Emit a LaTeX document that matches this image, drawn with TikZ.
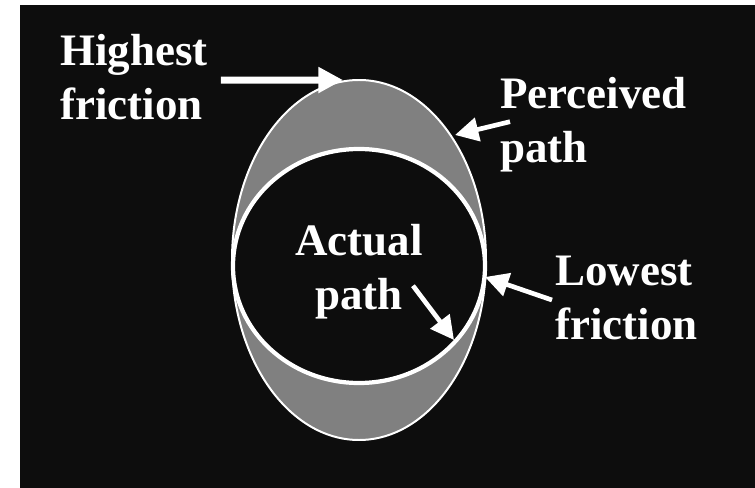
\documentclass[tikz,border=0pt]{standalone}
\usepackage{fontspec}
\setmainfont{Liberation Serif}
\usetikzlibrary{arrows.meta, positioning, calc}
\definecolor{bgblack}{HTML}{0D0D0D}
\definecolor{bandgray}{HTML}{808080}

\begin{document}
\begin{tikzpicture}[x=0.03cm, y=-0.03cm,
    tag/.style={text=white, font=\bfseries\fontsize{38.4}{46.9}\selectfont,
        align=left, anchor=base west, inner sep=0pt},
    pointer/.style={white, line width=4pt, -{Triangle[length=20pt, width=20pt]}},
    bigpointer/.style={white, line width=6pt, -{Triangle[length=21pt, width=21pt]}}]
    % Background
    \useasboundingbox (0,0) rectangle (755,488);
    \fill[white] (0,0) rectangle (755,488);
    \fill[bgblack] (20,5) rectangle (755,488);

    % Perceived path (outer) and actual path (inner)
    \filldraw[fill=bandgray, draw=white, line width=1.7pt] (359,260) ellipse [x radius=127, y radius=180];
    \filldraw[fill=bgblack, draw=white, line width=3.6pt] (359,266) ellipse [x radius=126, y radius=117];

    % Labels (base = last line)
    \node[tag] (highest) at (60,120) {Highest\\friction};
    \node[tag] (perceived) at (500,163) {Perceived\\path};
    \node[tag, align=center, anchor=base] (actual) at (359,310) {Actual\\path};
    \node[tag] (lowest) at (555,340) {Lowest\\friction};

    % Arrow tips on the paths
    \coordinate (hightip) at (343,80);
    \coordinate (perctip) at (455,135);
    \coordinate (acttip) at (454,340);
    \coordinate (lowtip) at (485,277);

    % Arrows
    \draw[bigpointer] ($(highest.east)+(13,3)$) -- (hightip);
    \draw[pointer] ($(perceived.west)+(10,-3)$) -- (perctip);
    \draw[pointer] ($(actual.east)+(-10,14)$) -- (acttip);
    \draw[pointer] ($(lowest.west)+(-3,2)$) -- (lowtip);
\end{tikzpicture}
\end{document}
